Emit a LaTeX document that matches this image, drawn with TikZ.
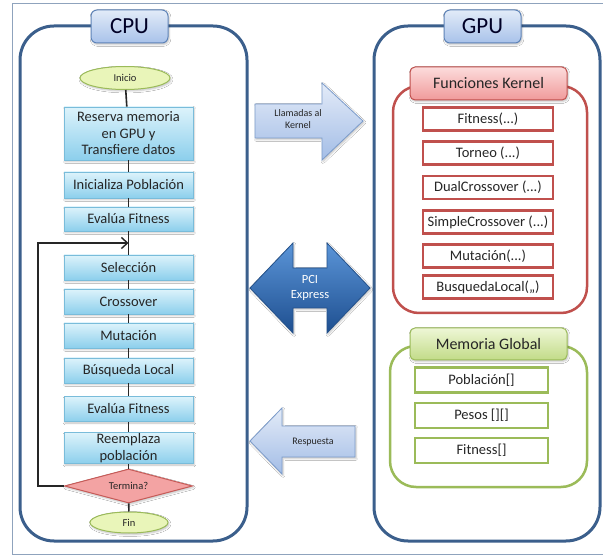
\documentclass[tikz,border=0pt]{standalone}
\usepackage{fontspec}
\setmainfont{Carlito}
\usetikzlibrary{shapes.geometric,arrows.meta,shadows.blur}

\definecolor{framecol}{HTML}{8FA3BD}
\definecolor{contblue}{HTML}{3B5F8C}
\definecolor{labtop}{HTML}{E2EBF8}
\definecolor{labbot}{HTML}{A8C2EA}
\definecolor{labedge}{HTML}{5F84B8}
\definecolor{flowtop}{HTML}{DDF3FB}
\definecolor{flowbot}{HTML}{8CCFEC}
\definecolor{flowedge}{HTML}{79BCDA}
\definecolor{ovalfill}{HTML}{E9F5B9}
\definecolor{ovaledge}{HTML}{9BBB59}
\definecolor{diamfill}{HTML}{F3A3A3}
\definecolor{diamedge}{HTML}{C75B58}
\definecolor{kred}{HTML}{C0504D}
\definecolor{ktop}{HTML}{FCDCDC}
\definecolor{kbot}{HTML}{F09A9A}
\definecolor{ggreen}{HTML}{9BBB59}
\definecolor{gtop}{HTML}{EEF7D6}
\definecolor{gbot}{HTML}{C2DB88}
\definecolor{arrtop}{HTML}{E3EBF8}
\definecolor{arrbot}{HTML}{A3BDE6}
\definecolor{arredge}{HTML}{7C9CCB}
\definecolor{pcitop}{HTML}{5B95D8}
\definecolor{pcibot}{HTML}{1E4F90}
\definecolor{pciedge}{HTML}{24518A}
\definecolor{txt}{HTML}{262626}

\begin{document}
\begin{tikzpicture}[x=1pt,y=-1pt,
  every node/.style={inner sep=0pt, text=txt},
  softshadow/.style={blur shadow={shadow blur steps=4, shadow xshift=1pt, shadow yshift=-1.5pt, shadow opacity=25}},
  container/.style={draw=contblue, line width=3pt, rounded corners=34pt},
  titlebox/.style={draw=labedge, line width=1pt, rounded corners=6pt, top color=labtop, bottom color=labbot,
    minimum width=77pt, minimum height=33pt, font=\fontsize{23}{25}\selectfont, text=black!85!blue, softshadow},
  flowbox/.style={draw=flowedge, line width=0.8pt, top color=flowtop, bottom color=flowbot,
    minimum width=129pt, minimum height=25pt, align=center, font=\fontsize{14.5}{16.5}\selectfont, softshadow},
  oval/.style={ellipse, draw=ovaledge, line width=1pt, fill=ovalfill, font=\fontsize{10.5}{12}\selectfont, softshadow},
  decision/.style={diamond, aspect=3.8, draw=diamedge, line width=1pt, fill=diamfill,
    minimum width=128pt, minimum height=34pt, font=\fontsize{10.5}{12}\selectfont, softshadow},
  flowline/.style={draw=black!85, line width=1.6pt},
  kgroup/.style={draw=kred, line width=2.5pt, rounded corners=26pt},
  klabel/.style={draw=kred, line width=1pt, rounded corners=5pt, top color=ktop, bottom color=kbot,
    minimum width=157pt, minimum height=33pt, font=\fontsize{16}{18}\selectfont, softshadow},
  kbox/.style={draw=kred, line width=2.5pt, fill=white, minimum width=130pt, minimum height=23pt,
    font=\fontsize{14.5}{16}\selectfont},
  ggroup/.style={draw=ggreen, line width=2.5pt, rounded corners=26pt},
  glabel/.style={draw=ggreen, line width=1pt, rounded corners=5pt, top color=gtop, bottom color=gbot,
    minimum width=157pt, minimum height=32pt, font=\fontsize{16}{18}\selectfont, softshadow},
  gbox/.style={draw=ggreen, line width=2.5pt, fill=white, minimum width=133pt, minimum height=25pt,
    font=\fontsize{14.5}{16}\selectfont},
  lightarrow/.style={draw=arredge, line width=0.8pt, top color=arrtop, bottom color=arrbot, softshadow},
  pciarrow/.style={draw=pciedge, line width=0.8pt, top color=pcitop, bottom color=pcibot, softshadow},
  smalltxt/.style={align=center, font=\fontsize{10}{11.5}\selectfont}
]
\useasboundingbox (0,0) rectangle (603,556);
\fill[white] (0,0) rectangle (603,556);

% outer frame
\draw[framecol, line width=1pt] (604,4) -- (12,4) -- (12,554) -- (604,554);

% host and device containers
\draw[container] (20,26) rectangle (247,541);
\draw[container] (374,26) rectangle (600,541);
\node[titlebox] (cpu) at (129.5,26.5) {CPU};
\node[titlebox] (gpu) at (482.5,26.5) {GPU};

% ---- host flowchart ----
\node[oval, minimum width=90pt, minimum height=23pt] (inicio) at (125,78) {Inicio};
\node[flowbox, minimum height=53pt] (reserva) at (128.5,133.5) {Reserva memoria\\en GPU y\\Transfiere\ datos};
\node[flowbox, minimum height=26pt] (inicializa) at (128.5,185) {Inicializa Población};
\node[flowbox, minimum height=24pt] (eval1) at (128.5,219) {Evalúa Fitness};
\node[flowbox] (seleccion) at (128.5,267.5) {Selección};
\node[flowbox] (crossover) at (128.5,301.5) {Crossover};
\node[flowbox] (mutacion) at (128.5,335.5) {Mutación};
\node[flowbox] (busqueda) at (128.5,370.5) {Búsqueda Local};
\node[flowbox] (eval2) at (128.5,409) {Evalúa Fitness};
\node[flowbox, minimum height=31pt] (reemplaza) at (128.5,448) {Reemplaza\\población};
\node[decision] (termina) at (128.5,486) {Termina?};
\node[oval, minimum width=78pt, minimum height=21pt] (fin) at (129,522.5) {Fin};

\coordinate (loopin) at (128.5,243);
\coordinate (loopcorner) at (38,486);

\path[flowline] (inicio) -- (reserva);
\path[flowline] (reserva) -- (inicializa);
\path[flowline] (inicializa) -- (eval1);
\path[flowline] (eval1) -- (seleccion);
\path[flowline] (seleccion) -- (crossover);
\path[flowline] (crossover) -- (mutacion);
\path[flowline] (mutacion) -- (busqueda);
\path[flowline] (busqueda) -- (eval2);
\path[flowline] (eval2) -- (reemplaza);
\path[flowline] (reemplaza) -- (termina);
\path[flowline] (termina) -- (fin);
\draw[draw=black!85, line width=1.6pt, -{Straight Barb[length=6pt,width=11pt,line width=1.4pt]}]
  (termina.west) -- (loopcorner) |- (loopin);

% ---- transfer arrows ----
\path[lightarrow] (255,104) -- (322,104) -- (322,83) -- (363,121) -- (322,160) -- (322,138) -- (255,138) -- cycle;
\node[smalltxt] (llamadas) at (298,119) {Llamadas al\\Kernel};

\path[pciarrow] (250,288) -- (293,243) -- (293,268) -- (327,268) -- (327,243) -- (370,288)
  -- (327,333) -- (327,308) -- (293,308) -- (293,333) -- cycle;
\node[align=center, font=\fontsize{12.5}{14.5}\selectfont, text=white] (pci) at (310,288) {PCI\\Express};

\path[lightarrow] (250,441) -- (282,408) -- (282,426) -- (355,426) -- (355,457) -- (282,457) -- (282,474) -- cycle;
\node[smalltxt] (respuesta) at (313,442) {Respuesta};

% ---- device: kernel functions ----
\draw[kgroup] (393,86) rectangle (587,313);
\node[klabel] (kernel) at (488.5,83.5) {Funciones Kernel};
\node[kbox] (k1) at (488,119) {Fitness(...)};
\node[kbox] (k2) at (488,153) {Torneo (...)};
\node[kbox] (k3) at (488,187.5) {DualCrossover (...)};
\node[kbox] (k4) at (488,222) {SimpleCrossover (...)};
\node[kbox] (k5) at (488,256) {Mutación(...)};
\node[kbox] (k6) at (488,287) {BusquedaLocal(,,)};

% ---- device: global memory ----
\draw[ggroup] (390,346) rectangle (587,487);
\node[glabel] (memoria) at (488.5,344) {Memoria Global};
\node[gbox] (g1) at (481.5,380) {Población[]};
\node[gbox] (g2) at (481.5,415.5) {Pesos [][]};
\node[gbox] (g3) at (481.5,450.5) {Fitness[]};
\end{tikzpicture}
\end{document}
